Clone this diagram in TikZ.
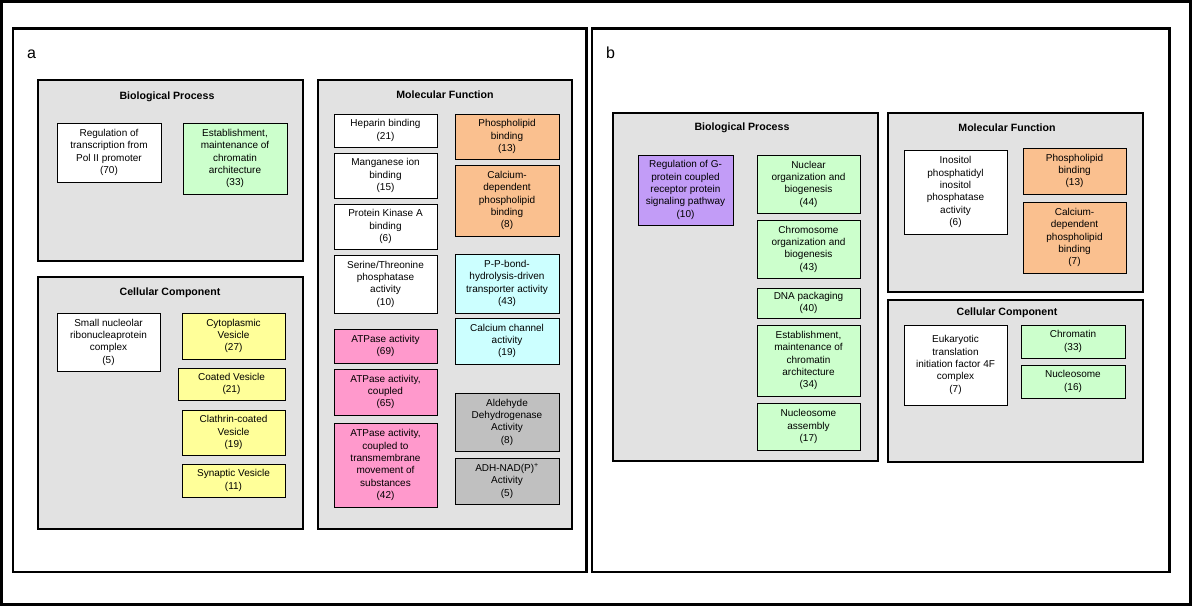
\documentclass[tikz,border=0pt]{standalone}
\usepackage{fontspec}
\setmainfont{Liberation Sans}
\definecolor{gogreen}{HTML}{CCFFCC}
\definecolor{goorange}{HTML}{FAC08F}
\definecolor{goyellow}{HTML}{FFFF99}
\definecolor{gocyan}{HTML}{CCFFFF}
\definecolor{gopink}{HTML}{FF99CC}
\definecolor{gogray}{HTML}{C0C0C0}
\definecolor{gopurple}{HTML}{C29CF7}
\definecolor{catfill}{HTML}{E2E2E2}
\tikzset{
  gobox/.style={draw=black, line width=0.9pt, inner sep=0pt, align=center,
    font=\fontsize{10}{12.3}\selectfont},
  catbox/.style={draw=black, line width=2.2pt, fill=catfill, inner sep=0pt},
  cattitle/.style={font=\fontsize{10.6}{12}\selectfont\bfseries, inner sep=0pt},
  panelbox/.style={draw=black, line width=2.6pt, inner sep=0pt},
  panellabel/.style={font=\fontsize{16}{18}\selectfont, inner sep=0pt, anchor=base west}
}
\newcommand{\gobx}[7]{\node[gobox, fill=#6, minimum width={#4-#2}, minimum height={#5-#3}] (#1) at ({(#2+#4)/2},{(#3+#5)/2}) {#7};}
\newcommand{\catbx}[5]{\node[catbox, minimum width={#4-#2}, minimum height={#5-#3}] (#1) at ({(#2+#4)/2},{(#3+#5)/2}) {};}
\newcommand{\panelbx}[5]{\node[panelbox, minimum width={#4-#2}, minimum height={#5-#3}] (#1) at ({(#2+#4)/2},{(#3+#5)/2}) {};}
\begin{document}
\begin{tikzpicture}[x=1pt,y=-1pt]
\useasboundingbox (0,0) rectangle (1192,606);
\fill[white] (0,0) rectangle (1192,606);
\draw[line width=3pt] (1.5,1.5) rectangle (1190.5,604.5);
% panels
\panelbx{pa}{13}{28.5}{586.5}{572}
\panelbx{pb}{592}{28.5}{1169.5}{572}
\node[panellabel] (la) at (27,58) {a};
\node[panellabel] (lb) at (606,58) {b};
% ---------- panel a ----------
\catbx{bpa}{38}{80}{303}{261}
\node[cattitle] (bpat) at (167,97) {Biological Process};
\gobx{a1}{57}{123}{161}{182}{white}{Regulation of\\transcription from\\Pol II promoter\\(70)}
\gobx{a2}{183}{123}{287}{194}{gogreen}{Establishment,\\maintenance of\\chromatin\\architecture\\(33)}
\catbx{cca}{38}{277}{303}{529}
\node[cattitle] (ccat) at (170,293) {Cellular Component};
\gobx{a3}{57}{313}{160}{371}{white}{Small nucleolar\\ribonucleaprotein\\complex\\(5)}
\gobx{a4}{182}{313}{285}{359}{goyellow}{Cytoplasmic\\Vesicle\\(27)}
\gobx{a5}{178}{368}{285}{400}{goyellow}{Coated Vesicle\\(21)}
\gobx{a6}{182}{410}{285}{455}{goyellow}{Clathrin-coated\\Vesicle\\(19)}
\gobx{a7}{182}{464}{285}{497}{goyellow}{Synaptic Vesicle\\(11)}
\catbx{mfa}{318}{80}{572}{529}
\node[cattitle] (mfat) at (445,95) {Molecular Function};
\gobx{m1}{334}{114}{437}{147}{white}{Heparin binding\\(21)}
\gobx{m2}{334}{153}{437}{198}{white}{Manganese ion\\binding\\(15)}
\gobx{m3}{334}{204}{437}{249}{white}{Protein Kinase A\\binding\\(6)}
\gobx{m4}{334}{255}{437}{313}{white}{Serine/Threonine\\phosphatase\\activity\\(10)}
\gobx{m5}{334}{329}{437}{363}{gopink}{ATPase activity\\(69)}
\gobx{m6}{334}{369}{437}{415}{gopink}{ATPase activity,\\coupled\\(65)}
\gobx{m7}{334}{423}{437}{507}{gopink}{ATPase activity,\\coupled to\\transmembrane\\movement of\\substances\\(42)}
\gobx{m8}{455}{114}{559}{159}{goorange}{Phospholipid\\binding\\(13)}
\gobx{m9}{455}{165}{559}{236}{goorange}{Calcium-\\dependent\\phospholipid\\binding\\(8)}
\gobx{m10}{455}{254}{559}{313}{gocyan}{P-P-bond-\\hydrolysis-driven\\transporter activity\\(43)}
\gobx{m11}{455}{318}{559}{364}{gocyan}{Calcium channel\\activity\\(19)}
\gobx{m12}{455}{393}{559}{451}{gogray}{Aldehyde\\Dehydrogenase\\Activity\\(8)}
\gobx{m13}{455}{458}{559}{504}{gogray}{ADH-NAD(P)\textsuperscript{+}\\Activity\\(5)}
% ---------- panel b ----------
\catbx{bpb}{613}{113}{878}{461}
\node[cattitle] (bpbt) at (742,128) {Biological Process};
\gobx{b1}{638}{155}{733}{225}{gopurple}{Regulation of G-\\protein coupled\\receptor protein\\signaling pathway\\(10)}
\gobx{b2}{757}{155}{860}{213}{gogreen}{Nuclear\\organization and\\biogenesis\\(44)}
\gobx{b3}{757}{220}{860}{278}{gogreen}{Chromosome\\organization and\\biogenesis\\(43)}
\gobx{b4}{757}{288}{860}{318}{gogreen}{DNA packaging\\(40)}
\gobx{b5}{757}{325}{860}{396}{gogreen}{Establishment,\\maintenance of\\chromatin\\architecture\\(34)}
\gobx{b6}{757}{403}{860}{450}{gogreen}{Nucleosome\\assembly\\(17)}
\catbx{mfb}{888}{113}{1143}{292}
\node[cattitle] (mfbt) at (1007,128) {Molecular Function};
\gobx{b7}{904}{150}{1007}{234}{white}{Inositol\\phosphatidyl\\inositol\\phosphatase\\activity\\(6)}
\gobx{b8}{1023}{148}{1126}{194}{goorange}{Phospholipid\\binding\\(13)}
\gobx{b9}{1023}{202}{1126}{273}{goorange}{Calcium-\\dependent\\phospholipid\\binding\\(7)}
\catbx{ccb}{888}{300}{1143}{462}
\node[cattitle] (ccbt) at (1007,313) {Cellular Component};
\gobx{b10}{904}{325}{1007}{405}{white}{Eukaryotic\\translation\\initiation factor 4F\\complex\\(7)}
\gobx{b11}{1021}{325}{1125}{358}{gogreen}{Chromatin\\(33)}
\gobx{b12}{1021}{365}{1125}{398}{gogreen}{Nucleosome\\(16)}
\end{tikzpicture}
\end{document}
